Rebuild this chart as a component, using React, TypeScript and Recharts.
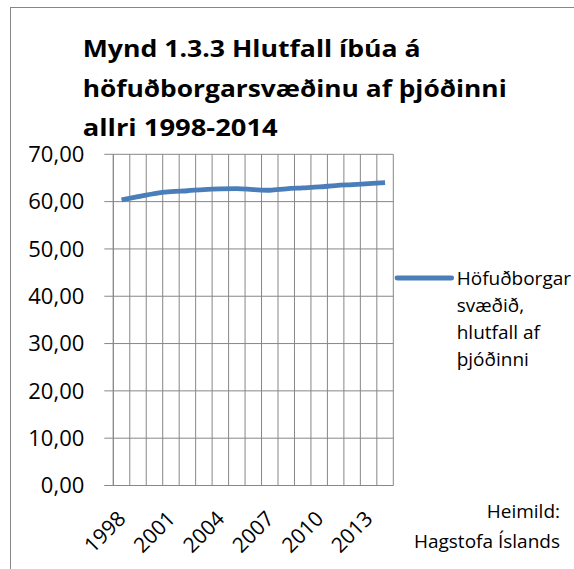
import React from 'react';
import { LineChart, Line, XAxis, YAxis, CartesianGrid, ReferenceLine } from 'recharts';

const years = [1998, 1999, 2000, 2001, 2002, 2003, 2004, 2005, 2006, 2007, 2008, 2009, 2010, 2011, 2012, 2013, 2014];
const share = [60.35, 61.05, 61.7, 62.1, 62.3, 62.55, 62.7, 62.75, 62.55, 62.4, 62.7, 62.9, 63.1, 63.4, 63.6, 63.8, 64.0];
const yTicks = [0, 10, 20, 30, 40, 50, 60, 70];
const labelYears = [1998, 2001, 2004, 2007, 2010, 2013];
const seriesName = 'Höfuðborgarsvæðið, hlutfall af þjóðinni';
const legendLines = ['Höfuðborgar', 'svæðið,', 'hlutfall af', 'þjóðinni'];
const titleLines = ['Mynd 1.3.3 Hlutfall íbúa á', 'höfuðborgarsvæðinu af þjóðinni', 'allri 1998-2014'];
const sourceLines = ['Heimild:', 'Hagstofa Íslands'];

const data = years.map((year, i) => ({ year, share: share[i] }));
const boundaries = [...years.map((y) => y - 0.5), years[years.length - 1] + 0.5];
const domainX = [boundaries[0], boundaries[boundaries.length - 1]];

const W = 574;
const H = 569;
const PLOT_LEFT = 113.3;
const PLOT_RIGHT = 393.3;
const PLOT_TOP = 154.3;
const PLOT_BOTTOM = 485.5;
const TICK = 9;
const LABEL_AXIS_H = 60;
const FONT = "'Open Sans', 'Noto Sans', sans-serif";
const GRID = '#878787';
const BLUE = '#4A7EBB';

const YearTick = (props: any) => {
  const { x, y, payload } = props;
  const ax = Number(x) + 5.5;
  const ay = Number(y) + 25.5;
  return (
    <g transform={`translate(${ax},${ay})`}>
      <text x={0} y={0} transform="rotate(-45)" textAnchor="end" fontFamily={FONT} fontSize={21} fill="#000">
        {payload.value}
      </text>
    </g>
  );
};

const titleLayout = [
  { y: 57.3, len: 338 },
  { y: 96.7, len: 424 },
  { y: 136, len: 195 },
];
const legendY = [284.5, 311.5, 338.5, 365.5];
const sourceY = [518, 548.3];

export default function App() {
  return (
    <div style={{ position: 'absolute', left: 0, top: 0, width: W, height: H, overflow: 'hidden', background: '#fff' }}>
      <svg width={W} height={H} style={{ position: 'absolute', left: 0, top: 0 }}>
        <rect x={10.5} y={7.5} width={800} height={800} fill="none" stroke={GRID} strokeWidth={1} />
        {titleLines.map((t, i) => (
          <text
            key={t}
            x={82.7}
            y={titleLayout[i].y}
            fontFamily={FONT}
            fontWeight={700}
            fontSize={24}
            fill="#000"
            textLength={titleLayout[i].len}
            lengthAdjust="spacingAndGlyphs"
          >
            {t}
          </text>
        ))}
        <line x1={397} y1={278} x2={451.7} y2={278} stroke={BLUE} strokeWidth={4.8} strokeLinecap="round" />
        {legendLines.map((t, i) => (
          <text key={t} x={456.7} y={legendY[i]} fontFamily={FONT} fontSize={19} fill="#000">
            {t}
          </text>
        ))}
        {sourceLines.map((t, i) => (
          <text key={t} x={560} y={sourceY[i]} textAnchor="end" fontFamily={FONT} fontSize={19} fill="#000">
            {t}
          </text>
        ))}
      </svg>
      <div style={{ position: 'absolute', left: 0, top: 0 }}>
        <LineChart
          width={W}
          height={H}
          data={data}
          margin={{ top: PLOT_TOP, right: W - PLOT_RIGHT, bottom: H - PLOT_BOTTOM - TICK - LABEL_AXIS_H, left: PLOT_LEFT - 100 }}
        >
          <CartesianGrid stroke={GRID} strokeWidth={1} vertical={false} />
          <ReferenceLine x={boundaries[0]} stroke={GRID} strokeWidth={1} />
          <ReferenceLine x={boundaries[1]} stroke={GRID} strokeWidth={1} />
          <ReferenceLine x={boundaries[2]} stroke={GRID} strokeWidth={1} />
          <ReferenceLine x={boundaries[3]} stroke={GRID} strokeWidth={1} />
          <ReferenceLine x={boundaries[4]} stroke={GRID} strokeWidth={1} />
          <ReferenceLine x={boundaries[5]} stroke={GRID} strokeWidth={1} />
          <ReferenceLine x={boundaries[6]} stroke={GRID} strokeWidth={1} />
          <ReferenceLine x={boundaries[7]} stroke={GRID} strokeWidth={1} />
          <ReferenceLine x={boundaries[8]} stroke={GRID} strokeWidth={1} />
          <ReferenceLine x={boundaries[9]} stroke={GRID} strokeWidth={1} />
          <ReferenceLine x={boundaries[10]} stroke={GRID} strokeWidth={1} />
          <ReferenceLine x={boundaries[11]} stroke={GRID} strokeWidth={1} />
          <ReferenceLine x={boundaries[12]} stroke={GRID} strokeWidth={1} />
          <ReferenceLine x={boundaries[13]} stroke={GRID} strokeWidth={1} />
          <ReferenceLine x={boundaries[14]} stroke={GRID} strokeWidth={1} />
          <ReferenceLine x={boundaries[15]} stroke={GRID} strokeWidth={1} />
          <ReferenceLine x={boundaries[16]} stroke={GRID} strokeWidth={1} />
          <ReferenceLine x={boundaries[17]} stroke={GRID} strokeWidth={1} />
          <XAxis
            dataKey="year"
            type="number"
            domain={domainX}
            ticks={boundaries}
            interval={0}
            height={TICK}
            tickSize={TICK}
            tick={false}
            axisLine={{ stroke: GRID }}
            tickLine={{ stroke: GRID }}
          />
          <XAxis
            xAxisId="labels"
            dataKey="year"
            type="number"
            domain={domainX}
            ticks={labelYears}
            interval={0}
            height={LABEL_AXIS_H}
            tickSize={0}
            tickMargin={0}
            axisLine={false}
            tickLine={false}
            tick={<YearTick />}
          />
          <YAxis
            type="number"
            domain={[0, 70]}
            ticks={yTicks}
            interval={0}
            width={100}
            tickSize={TICK}
            tickMargin={20}
            tickFormatter={(v: number) => v.toFixed(2).replace('.', ',')}
            tick={{ fill: '#000', fontSize: 22, fontFamily: FONT }}
            axisLine={{ stroke: GRID }}
            tickLine={{ stroke: GRID }}
          />
          <Line
            name={seriesName}
            dataKey="share"
            type="monotone"
            stroke={BLUE}
            strokeWidth={4.8}
            dot={false}
            activeDot={false}
            isAnimationActive={false}
          />
        </LineChart>
      </div>
    </div>
  );
}
